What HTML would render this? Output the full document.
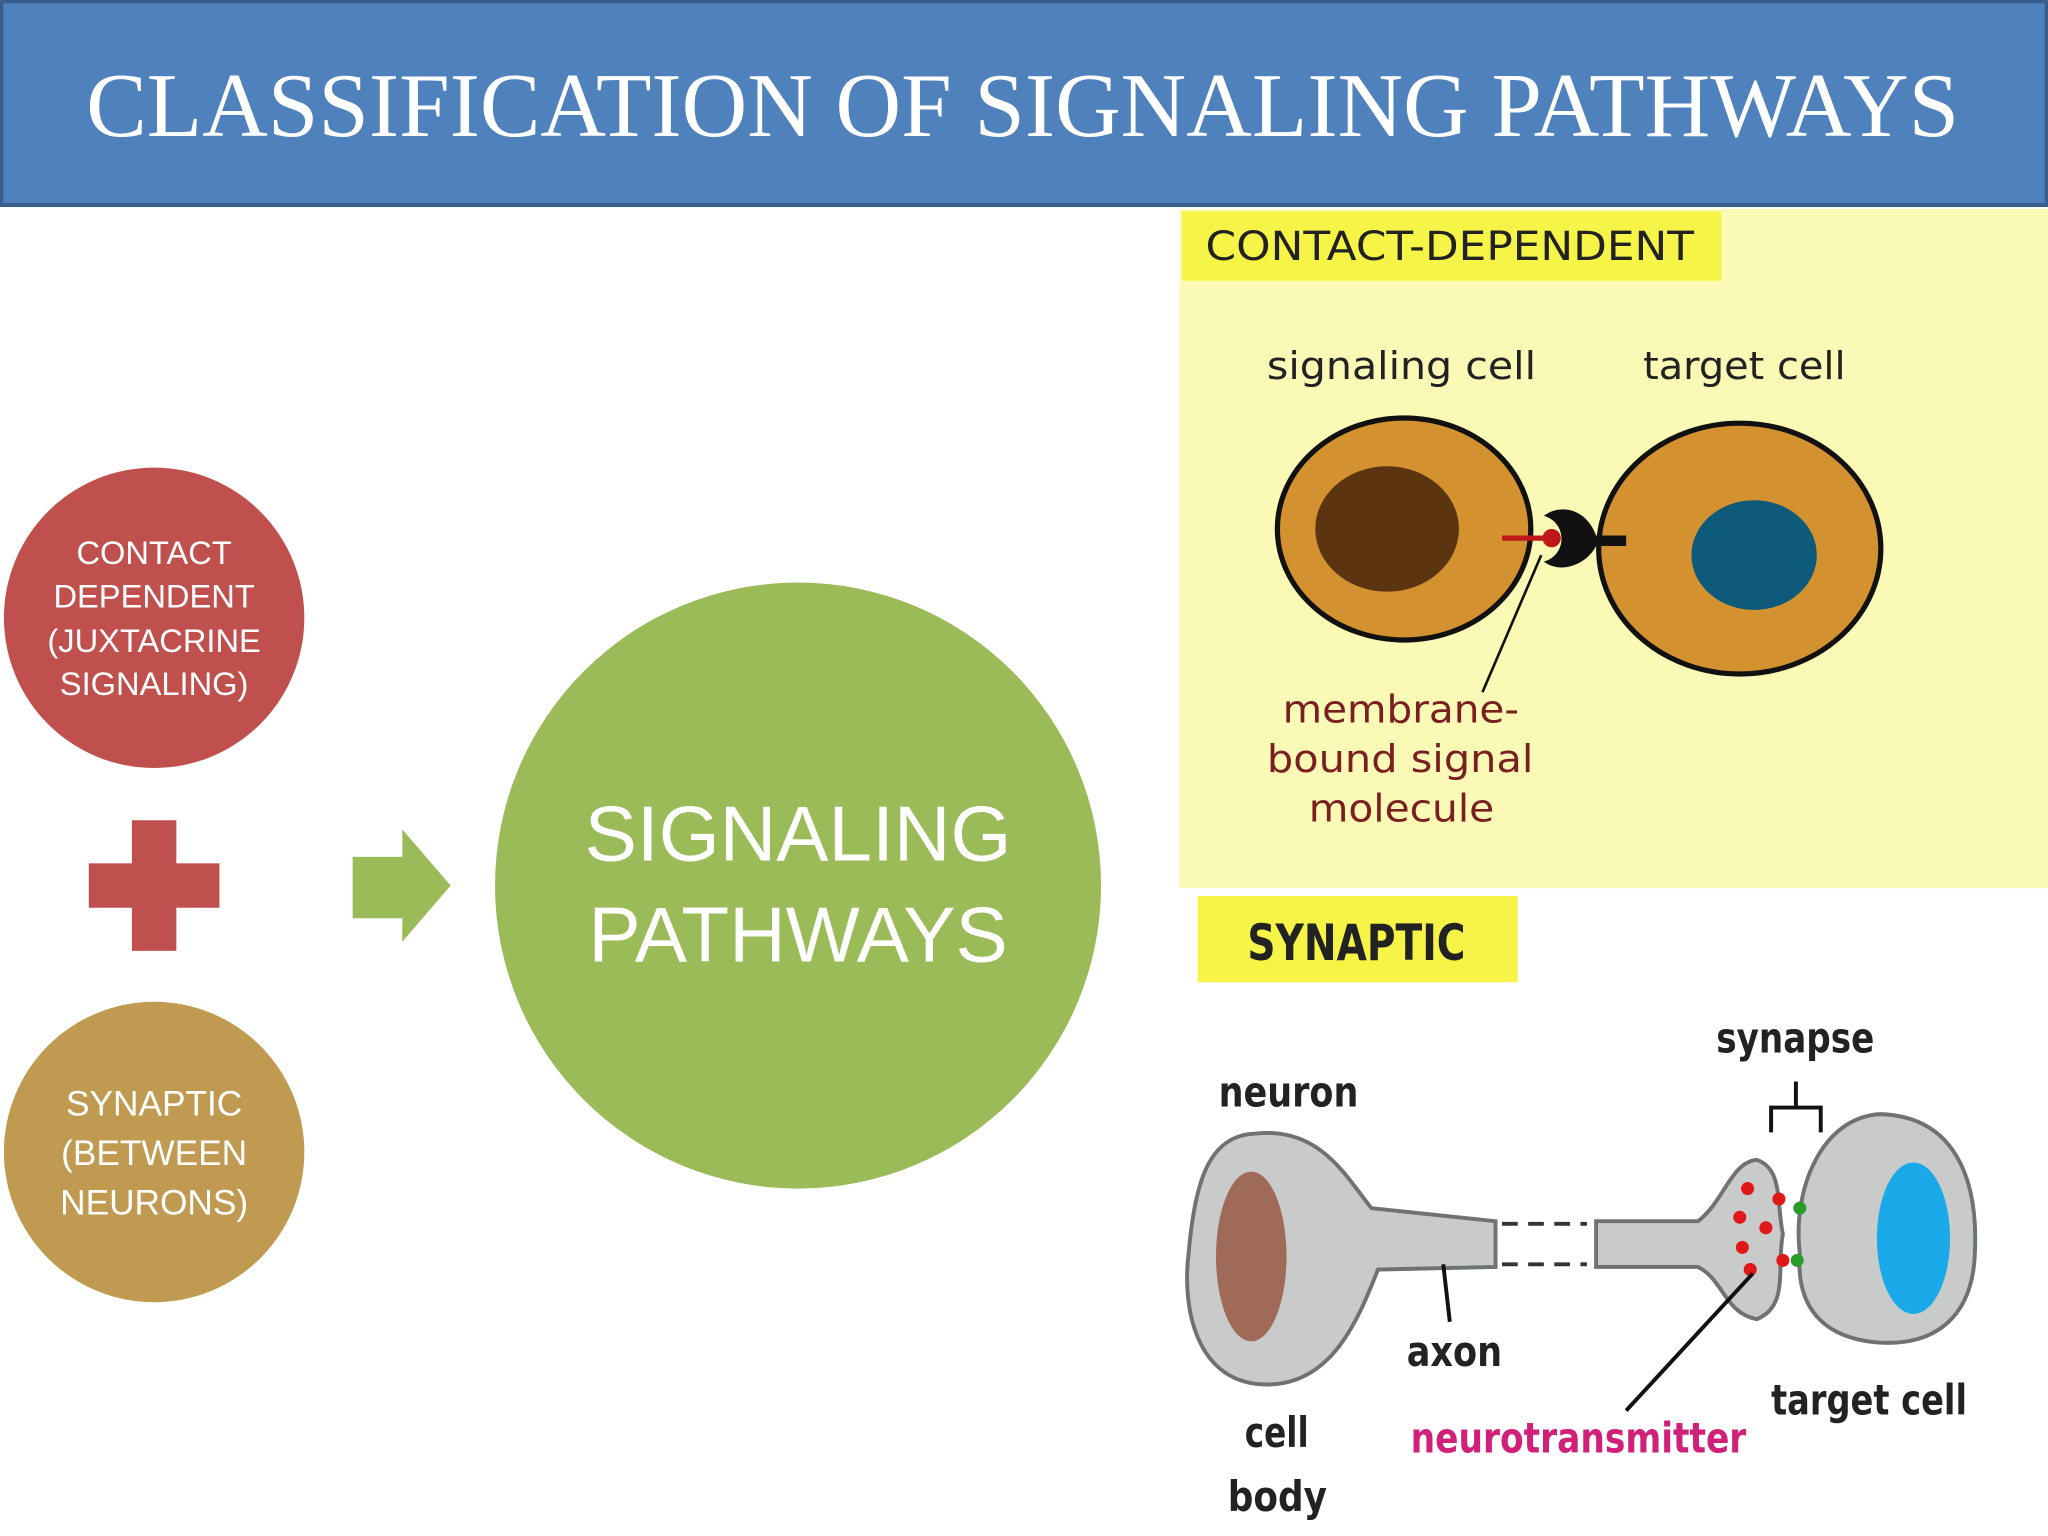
<!DOCTYPE html>
<html><head><style>html,body{margin:0;padding:0;background:#fff}svg{display:block}</style></head>
<body>
<svg width="2048" height="1536" viewBox="0 0 1568 1176" xmlns="http://www.w3.org/2000/svg">
<rect width="1568" height="1176" fill="#fff"/>
<rect x="1" y="1" width="1566" height="156" fill="#4f81bd" stroke="#385d8a" stroke-width="3"/>
<text x="66" y="104" textLength="1434" lengthAdjust="spacingAndGlyphs" font-family="Liberation Serif,serif" font-size="70" fill="#fff">CLASSIFICATION OF SIGNALING PATHWAYS</text>

<circle cx="118" cy="473" r="115" fill="#c0504d"/>
<g font-family="Liberation Sans,DejaVu Sans,sans-serif" font-size="25" fill="#fff" text-anchor="middle">
<text x="118" y="432">CONTACT</text><text x="118" y="465">DEPENDENT</text><text x="118" y="499">(JUXTACRINE</text><text x="118" y="532">SIGNALING)</text>
</g>
<rect x="101" y="628" width="34" height="100" fill="#c0504d"/>
<rect x="68" y="661" width="100" height="34" fill="#c0504d"/>
<circle cx="118" cy="882" r="115" fill="#c09a50"/>
<g font-family="Liberation Sans,DejaVu Sans,sans-serif" font-size="27" fill="#fff" text-anchor="middle">
<text x="118" y="854">SYNAPTIC</text><text x="118" y="892">(BETWEEN</text><text x="118" y="930">NEURONS)</text>
</g>
<polygon points="270,656 308,656 308,635 345,678 308,721 308,703 270,703" fill="#9bbb59"/>
<circle cx="611" cy="678" r="232" fill="#9bbb59"/>
<g font-family="Liberation Sans,DejaVu Sans,sans-serif" font-size="60" fill="#fff" text-anchor="middle">
<text x="611" y="659">SIGNALING</text><text x="611" y="736">PATHWAYS</text>
</g>

<rect x="903" y="160" width="665" height="520" fill="#fbf9b6"/>
<rect x="905" y="162" width="413" height="53" fill="#f6f446"/>
<text x="923" y="199" textLength="374" lengthAdjust="spacingAndGlyphs" font-family="DejaVu Sans,sans-serif" font-size="31" fill="#222">CONTACT-DEPENDENT</text>
<g font-family="DejaVu Sans,sans-serif" font-size="29" fill="#222" lengthAdjust="spacingAndGlyphs">
<text x="970" y="290" textLength="206" lengthAdjust="spacingAndGlyphs">signaling cell</text><text x="1258" y="290" textLength="155" lengthAdjust="spacingAndGlyphs">target cell</text>
</g>
<ellipse cx="1075" cy="405" rx="97" ry="85" fill="#d4912f" stroke="#111" stroke-width="4"/>
<ellipse cx="1062" cy="405" rx="55" ry="48" fill="#5a3510"/>
<ellipse cx="1332" cy="420" rx="108" ry="96" fill="#d4912f" stroke="#111" stroke-width="4"/>
<ellipse cx="1343" cy="425" rx="48" ry="42" fill="#0e5a7a"/>
<line x1="1150" y1="412" x2="1185" y2="412" stroke="#c01818" stroke-width="4"/>
<circle cx="1188" cy="412" r="7" fill="#c01818"/>
<path d="M1245,410 L1222,410 C1215,390 1195,385 1182,395 C1200,400 1200,425 1182,430 C1195,440 1215,432 1222,418 L1245,418Z" fill="#111"/>
<line x1="1180" y1="425" x2="1135" y2="530" stroke="#111" stroke-width="2"/>
<g font-family="DejaVu Sans,sans-serif" font-size="29" fill="#7a1f1f">
<text x="982" y="553" textLength="181" lengthAdjust="spacingAndGlyphs">membrane-</text><text x="970" y="591" textLength="204" lengthAdjust="spacingAndGlyphs">bound signal</text><text x="1002" y="629" textLength="142" lengthAdjust="spacingAndGlyphs">molecule</text>
</g>

<rect x="917" y="686" width="245" height="66" fill="#f6f446"/>
<text x="955" y="735" textLength="167" lengthAdjust="spacingAndGlyphs" font-family="DejaVu Sans,sans-serif" font-weight="bold" font-size="38" fill="#222">SYNAPTIC</text>
<g fill="#c8cbca" stroke="#6e7272" stroke-width="3">
<path d="M960,868 C1010,862 1030,900 1050,925 L1145,935 L1145,970 L1055,972 C1040,1010 1020,1060 970,1060 C915,1060 905,1000 910,960 C915,905 925,870 960,868Z"/>
<path d="M1222,935 L1300,935 C1320,920 1325,890 1345,888 C1365,895 1360,920 1365,945 C1360,970 1370,1000 1345,1010 C1320,1005 1320,980 1300,970 L1222,970Z"/>
<path d="M1440,853 C1495,855 1515,900 1512,960 C1510,1010 1480,1030 1440,1028 C1395,1025 1375,1000 1378,960 C1372,910 1395,855 1440,853Z"/>
</g>
<ellipse cx="958" cy="962" rx="27" ry="65" fill="#a06a58"/>
<ellipse cx="1465" cy="948" rx="28" ry="58" fill="#19a8e8"/>
<g stroke="#333" stroke-width="3"><line x1="1150" y1="937" x2="1215" y2="937" stroke-dasharray="12,8"/><line x1="1150" y1="968" x2="1215" y2="968" stroke-dasharray="12,8"/></g>
<g fill="#e01818"><circle cx="1338" cy="910" r="5"/><circle cx="1332" cy="932" r="5"/><circle cx="1352" cy="940" r="5"/><circle cx="1334" cy="955" r="5"/><circle cx="1340" cy="972" r="5"/><circle cx="1362" cy="918" r="5"/><circle cx="1365" cy="965" r="5"/></g>
<g fill="#2a9a2a"><circle cx="1378" cy="925" r="5"/><circle cx="1376" cy="965" r="5"/></g>
<path d="M1356,867 L1356,848 L1394,848 L1394,867 M1375,848 L1375,828" fill="none" stroke="#111" stroke-width="3"/>
<line x1="1105" y1="968" x2="1110" y2="1012" stroke="#111" stroke-width="3"/>
<line x1="1342" y1="975" x2="1245" y2="1080" stroke="#111" stroke-width="3"/>
<g font-family="DejaVu Sans,sans-serif" font-weight="bold" font-size="32" fill="#222">
<text x="933" y="847" textLength="107" lengthAdjust="spacingAndGlyphs">neuron</text>
<text x="1314" y="806" textLength="121" lengthAdjust="spacingAndGlyphs">synapse</text>
<text x="1077" y="1046" textLength="73" lengthAdjust="spacingAndGlyphs">axon</text>
<text x="953" y="1108" textLength="49" lengthAdjust="spacingAndGlyphs">cell</text>
<text x="940" y="1157" textLength="76" lengthAdjust="spacingAndGlyphs">body</text>
<text x="1356" y="1083" textLength="150" lengthAdjust="spacingAndGlyphs">target cell</text>
<text x="1080" y="1112" textLength="257" lengthAdjust="spacingAndGlyphs" fill="#d0207a">neurotransmitter</text>
</g>
</svg>
</body></html>
